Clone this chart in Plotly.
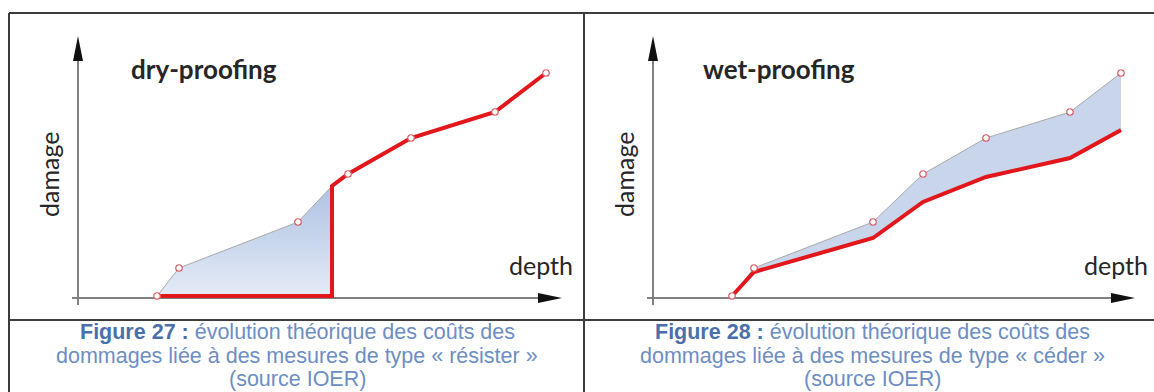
import plotly.graph_objects as go

# ---------------- data (arbitrary units) ----------------
depth = [7.9, 10.1, 22.0, 27.0, 33.3, 41.7, 46.8]
damage_without_measure = [0.0, 2.8, 7.4, 12.2, 15.8, 18.4, 22.3]
damage_wet_proofing = [0.0, 2.4, 5.8, 9.4, 11.9, 13.8, 16.6]
dry_threshold_depth = 25.4
dry_threshold_damage = 11.0

panel_titles = ["dry-proofing", "wet-proofing"]
x_label = "depth"
y_label = "damage"
caption_heads = ["Figure 27 :", "Figure 28 :"]
caption_line1 = " évolution théorique des coûts des"
caption_line2 = ["dommages liée à des mesures de type « résister »",
                 "dommages liée à des mesures de type « céder »"]
caption_line3 = "(source IOER)"

# ---------------- styling ----------------
W, H = 1154, 392
RED = "#e3161b"
EDGE = "#a9a9a9"
MARK_LINE = "#d9606a"
CAP_COL = "#6d8ec4"
CAP_HEAD = "#4a6fad"
TXT = "#262626"
CHART_FONT = "Lato, Carlito, Calibri, sans-serif"
CAP_FONT = "Liberation Sans, Arial, sans-serif"


def px(x):
    return x / W


def py(y):
    return 1 - y / H


fig = go.Figure()

# left panel: dry-proofing
n_pre = 3
fill_x = depth[:n_pre] + [dry_threshold_depth, dry_threshold_depth]
fill_y = damage_without_measure[:n_pre] + [dry_threshold_damage, 0.0]
fig.add_trace(go.Scatter(
    x=fill_x, y=fill_y, mode="lines", fill="toself",
    fillgradient=dict(type="vertical",
                      colorscale=[[0, "#e4ebf6"], [1, "#aec2e2"]]),
    line=dict(color=EDGE, width=1), hoverinfo="skip",
    xaxis="x", yaxis="y", showlegend=False))
red_x = [depth[0], dry_threshold_depth, dry_threshold_depth] + depth[n_pre:]
red_y = [0.0, 0.0, dry_threshold_damage] + damage_without_measure[n_pre:]
fig.add_trace(go.Scatter(
    x=red_x, y=red_y, mode="lines",
    line=dict(color=RED, width=4), xaxis="x", yaxis="y", showlegend=False))
fig.add_trace(go.Scatter(
    x=depth, y=damage_without_measure, mode="markers", cliponaxis=False,
    marker=dict(symbol="circle", size=6.5, color="white",
                line=dict(color=MARK_LINE, width=1.2)),
    xaxis="x", yaxis="y", showlegend=False))

# right panel: wet-proofing
fig.add_trace(go.Scatter(
    x=depth, y=damage_wet_proofing, mode="lines",
    line=dict(color=RED, width=0), xaxis="x2", yaxis="y2", showlegend=False))
fig.add_trace(go.Scatter(
    x=depth, y=damage_without_measure, mode="lines", fill="tonexty",
    fillcolor="#c8d5ea", line=dict(color=EDGE, width=1),
    xaxis="x2", yaxis="y2", showlegend=False))
fig.add_trace(go.Scatter(
    x=depth, y=damage_wet_proofing, mode="lines",
    line=dict(color=RED, width=4), xaxis="x2", yaxis="y2", showlegend=False))
fig.add_trace(go.Scatter(
    x=depth, y=damage_without_measure, mode="markers", cliponaxis=False,
    marker=dict(symbol="circle", size=6.5, color="white",
                line=dict(color=MARK_LINE, width=1.2)),
    xaxis="x2", yaxis="y2", showlegend=False))

ax_common = dict(visible=False, fixedrange=True)
fig.update_layout(
    width=W, height=H, margin=dict(l=0, r=0, t=0, b=0),
    paper_bgcolor="white", plot_bgcolor="rgba(0,0,0,0)",
    xaxis=dict(domain=[px(68), px(578)], range=[-1, 50], **ax_common),
    yaxis=dict(domain=[py(306), py(36)], range=[-1, 26], **ax_common),
    xaxis2=dict(domain=[px(643), px(1153)], range=[-1, 50], anchor="y2", **ax_common),
    yaxis2=dict(domain=[py(306), py(36)], range=[-1, 26], anchor="x2", **ax_common),
)

shapes = []
# table borders
bl = dict(color="#3c3c3c", width=2)
shapes.append(dict(type="line", xref="paper", yref="paper", x0=px(9), x1=px(1154),
                   y0=py(13), y1=py(13), line=bl))
shapes.append(dict(type="line", xref="paper", yref="paper", x0=px(9), x1=px(9),
                   y0=py(13), y1=py(392), line=bl))
shapes.append(dict(type="line", xref="paper", yref="paper", x0=px(584), x1=px(584),
                   y0=py(13), y1=py(392), line=bl))
shapes.append(dict(type="line", xref="paper", yref="paper", x0=px(9), x1=px(1154),
                   y0=py(320), y1=py(320), line=bl))

# axis arrows (decoration)
for off in (0, 575):
    ox = 78 + off
    shapes.append(dict(type="line", xref="paper", yref="paper", layer="below",
                       x0=px(ox), x1=px(ox), y0=py(305), y1=py(56),
                       line=dict(color="#808080", width=2)))
    shapes.append(dict(type="path", xref="paper", yref="paper",
                       path=f"M {px(ox)},{py(36)} L {px(ox-5)},{py(61)} L {px(ox+5)},{py(61)} Z",
                       fillcolor="#111111", line=dict(width=0)))
    tip = 562 + off - (2 if off else 0)
    shapes.append(dict(type="line", xref="paper", yref="paper", layer="below",
                       x0=px(72 + off), x1=px(tip - 18), y0=py(298), y1=py(298),
                       line=dict(color="#808080", width=2)))
    shapes.append(dict(type="path", xref="paper", yref="paper",
                       path=f"M {px(tip)},{py(298)} L {px(tip-24)},{py(293)} L {px(tip-24)},{py(303)} Z",
                       fillcolor="#111111", line=dict(width=0)))
fig.update_layout(shapes=shapes)

ann = []
for i, off in enumerate((0, 575)):
    ann.append(dict(xref="paper", yref="paper", x=px(204 + off), y=py(69),
                    text=f"<b>{panel_titles[i]}</b>", showarrow=False,
                    xanchor="center", yanchor="middle",
                    font=dict(family=CHART_FONT, size=26, color=TXT)))
    ann.append(dict(xref="paper", yref="paper", x=px(49 + off), y=py(175),
                    text=y_label, textangle=-90, showarrow=False,
                    xanchor="center", yanchor="middle",
                    font=dict(family=CHART_FONT, size=25, color=TXT)))
    ann.append(dict(xref="paper", yref="paper", x=px(541 + off), y=py(265),
                    text=x_label, showarrow=False,
                    xanchor="center", yanchor="middle",
                    font=dict(family=CHART_FONT, size=25, color=TXT)))
    cx = 297 + off
    lines = [f"<b><span style='color:{CAP_HEAD}'>{caption_heads[i]}</span></b>{caption_line1}",
             caption_line2[i], caption_line3]
    for yy, t in zip((332, 355.5, 378.5), lines):
        ann.append(dict(xref="paper", yref="paper", x=px(cx), y=py(yy), text=t,
                        showarrow=False, xanchor="center", yanchor="middle",
                        font=dict(family=CAP_FONT, size=21.5, color=CAP_COL)))
fig.update_layout(annotations=ann)

fig.write_html("out.html", config={"displayModeBar": False, "staticPlot": True},
               post_script="document.body.style.margin='0px';document.body.style.overflow='hidden';")
